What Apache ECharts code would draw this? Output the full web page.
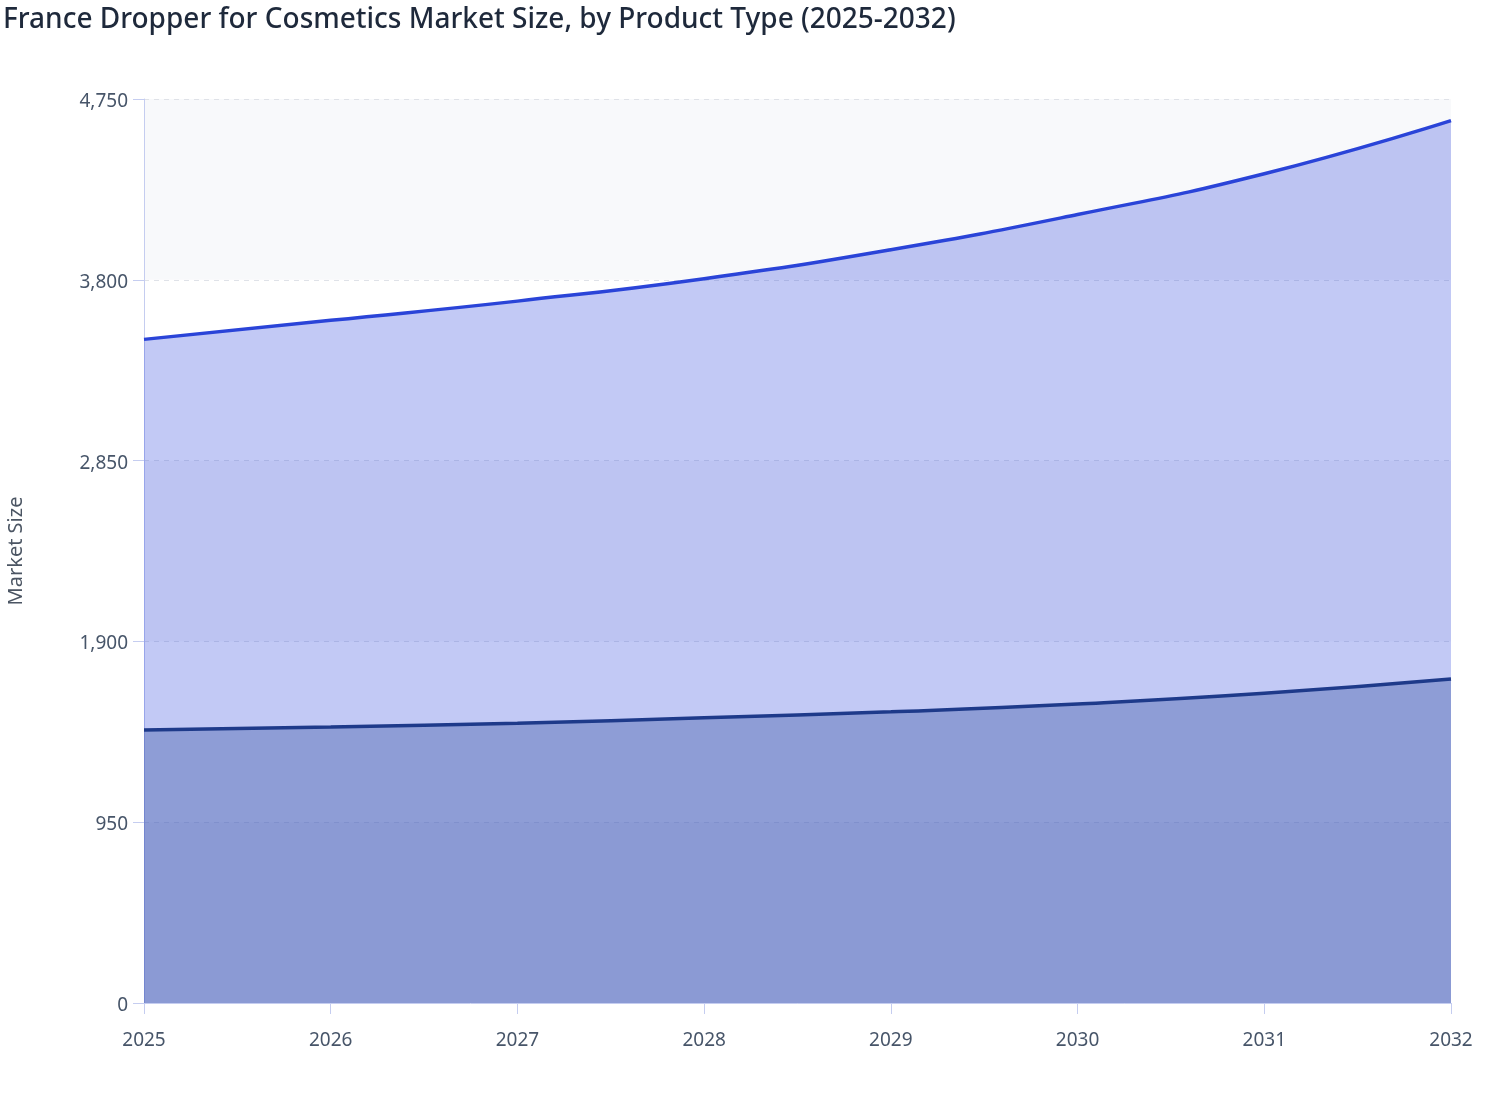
<!DOCTYPE html>
<html>
<head>
<meta charset="utf-8">
<script src="https://cdn.jsdelivr.net/npm/echarts@6/dist/echarts.min.js"></script>
<style>
html,body{margin:0;padding:0;background:#fff;}
#chart{width:1508px;height:1120px;}
</style>
</head>
<body>
<div id="chart"></div>
<script>
const titleText = 'France Dropper for Cosmetics Market Size, by Product Type (2025-2032)';
const years = ['2025','2026','2027','2028','2029','2030','2031','2032'];
const seriesBottomName = 'Glass Dropper';
const seriesBottom = [1434, 1450, 1470, 1499, 1530, 1571, 1627, 1702];
const seriesTopName = 'Plastic Dropper';
const seriesTop = [2053, 2137, 2218, 2307, 2428, 2572, 2730, 2934];
const yMin = 0, yMax = 4750, yInterval = 950;

const chart = echarts.init(document.getElementById('chart'));
const font = '"Noto Sans", "Open Sans", sans-serif';
chart.setOption({
  animation: false,
  title: {
    text: titleText, left: -2, top: 1,
    textStyle: {fontFamily: font, fontSize: 28, fontWeight: 500, color: '#1e293b'}
  },
  grid: {left: 144, right: 57, top: 99, bottom: 117, containLabel: false, outerBoundsMode: 'none'},
  xAxis: {
    type: 'category', data: years, boundaryGap: false,
    axisLine: {lineStyle: {color: '#c5cdf0', width: 1}},
    axisTick: {show: true, length: 11, lineStyle: {color: '#c5cdf0'}},
    axisLabel: {fontFamily: font, fontSize: 19, color: '#475569', margin: 28},
    splitLine: {show: false}
  },
  yAxis: {
    type: 'value', min: yMin, max: yMax, interval: yInterval,
    name: 'Market Size', nameLocation: 'middle', nameGap: 118, nameRotate: 90,
    nameTextStyle: {fontFamily: font, fontSize: 20, color: '#4b5563'},
    axisLine: {show: true, lineStyle: {color: '#c5cdf0', width: 1}},
    axisTick: {show: true, length: 11, lineStyle: {color: '#c5cdf0'}},
    axisLabel: {fontFamily: font, fontSize: 19, color: '#475569', margin: 16,
      formatter: v => '{v|' + v.toLocaleString('en-US') + '}',
      rich: {v: {fontFamily: font, fontSize: 19, color: '#475569', padding: [5, 0, 0, 0]}}},
    splitLine: {show: true, lineStyle: {color: '#dfe2e8', type: [5, 5], width: 1}},
    splitArea: {show: true, areaStyle: {color: ['#f8f9fb', '#ffffff']}}
  },
  series: [
    {
      name: seriesBottomName, type: 'line', stack: 'total', data: seriesBottom,
      smooth: true, symbol: 'none',
      lineStyle: {color: '#1e3a8a', width: 3.5},
      itemStyle: {color: '#1e3a8a'},
      areaStyle: {color: 'rgba(50,76,181,0.55)', opacity: 1}
    },
    {
      name: seriesTopName, type: 'line', stack: 'total', data: seriesTop,
      smooth: true, symbol: 'none',
      lineStyle: {color: '#2a44d8', width: 3.5},
      itemStyle: {color: '#2a44d8'},
      areaStyle: {color: 'rgba(37,62,220,0.28)', opacity: 1}
    }
  ]
});
</script>
</body>
</html>
